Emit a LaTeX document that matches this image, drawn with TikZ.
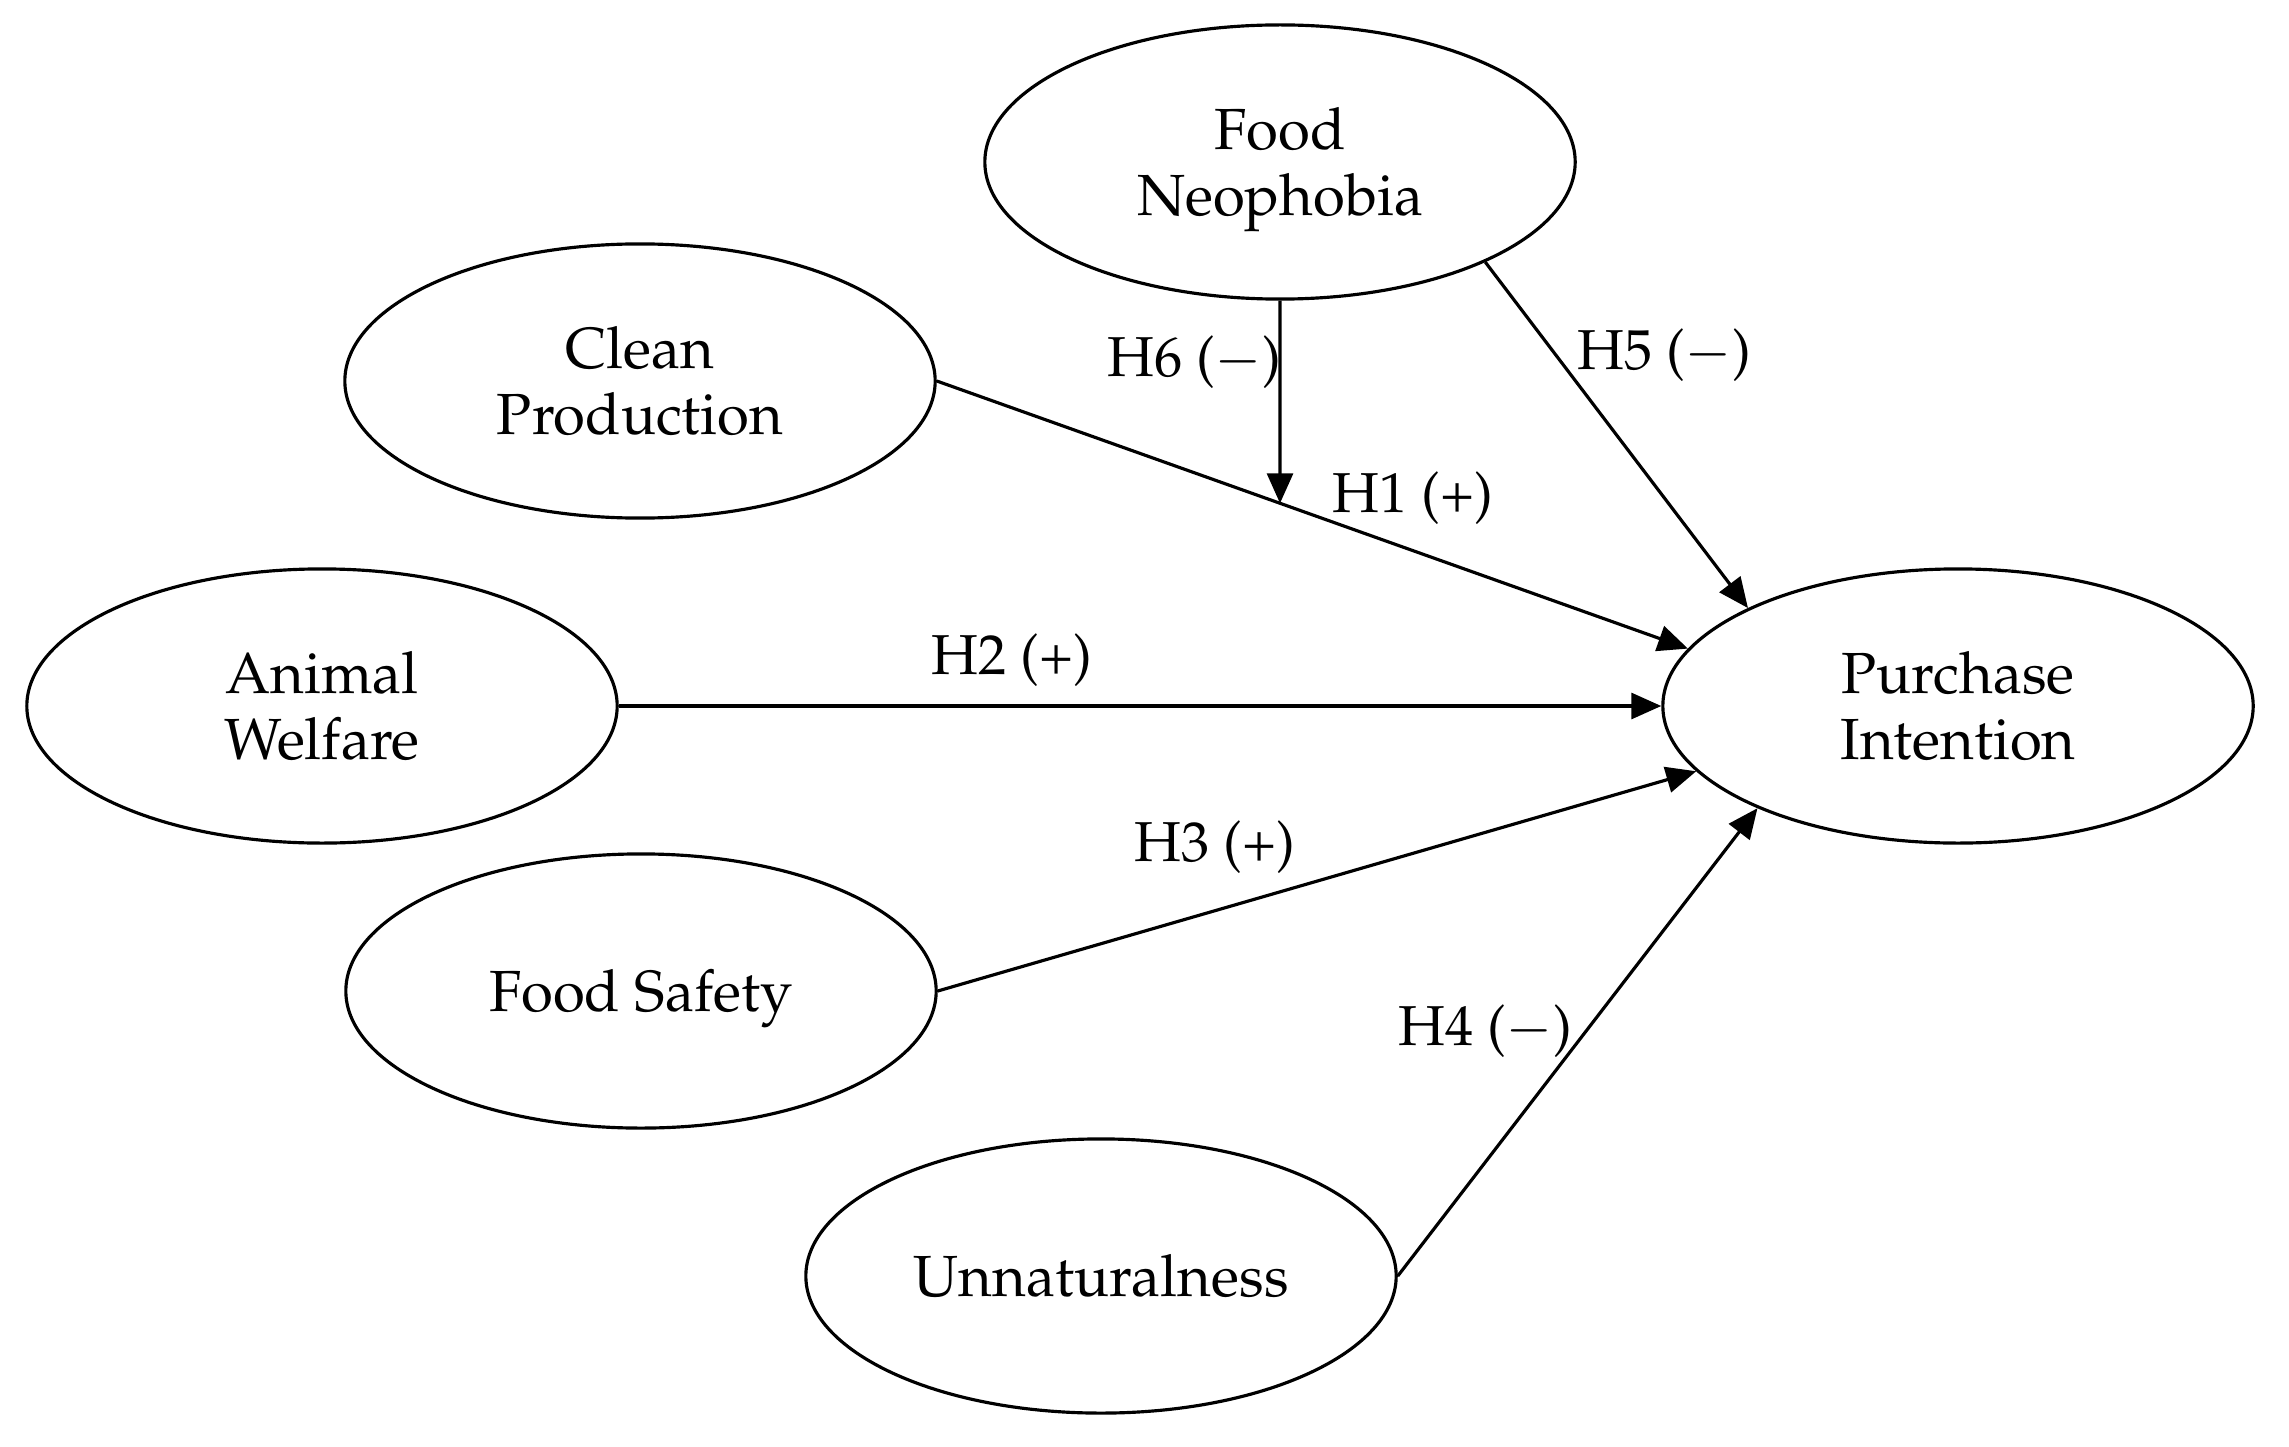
\documentclass[tikz,border=0pt]{standalone}
\usepackage[T1]{fontenc}
\usepackage{mathpazo}
\usetikzlibrary{shapes.geometric,arrows.meta,intersections}
\newcommand\lattext[1]{\raisebox{-2pt}[\height][\depth]{\begin{tabular}{@{}c@{}}#1\end{tabular}}}
\begin{document}
\begin{tikzpicture}[x=0.01cm,y=-0.01cm,
  lat/.style={ellipse,draw,line width=0.9pt,minimum width=5.9cm,minimum height=2.74cm,inner sep=0pt,font=\fontsize{16.5}{18.7}\selectfont},
  arr/.style={line width=0.9pt,-{Triangle[length=0.3cm,width=0.26cm]}},
  lbl/.style={font=\fontsize{16}{19}\selectfont,inner sep=0pt}]
\useasboundingbox (0,0) rectangle (2289,1446);
\node[lat] (fn) at (1280,162) {\lattext{Food\\Neophobia}};
\node[lat] (cp) at (640,381) {\lattext{Clean\\Production}};
\node[lat] (aw) at (322,706) {\lattext{Animal\\Welfare}};
\node[lat] (fs) at (641,991) {\lattext{Food Safety}};
\node[lat] (un) at (1101,1276) {\lattext{Unnaturalness}};
\node[lat] (pi) at (1958,706) {\lattext{Purchase\\Intention}};
\draw[arr,name path=h1] (cp.east) -- (pi.168);
\draw[arr] (aw.east) -- (pi.west);
\draw[arr] (fs.east) -- (pi.194);
\draw[arr] (un.east) -- (pi.207);
\draw[arr] (fn.-26) -- (pi.155);
\path[name path=v6] (fn.south) -- ++(0,600);
\path[name intersections={of=h1 and v6, by=m}];
\draw[arr] (fn.south) -- (m);
\node[lbl] (l6) at (1194,362) {H6 ($-$)};
\node[lbl] (l5) at (1664,355) {H5 ($-$)};
\node[lbl] (l1) at (1413,498) {H1 (+)};
\node[lbl] (l2) at (1012,660) {H2 (+)};
\node[lbl] (l3) at (1215,847) {H3 (+)};
\node[lbl] (l4) at (1485,1031) {H4 ($-$)};
\end{tikzpicture}
\end{document}
